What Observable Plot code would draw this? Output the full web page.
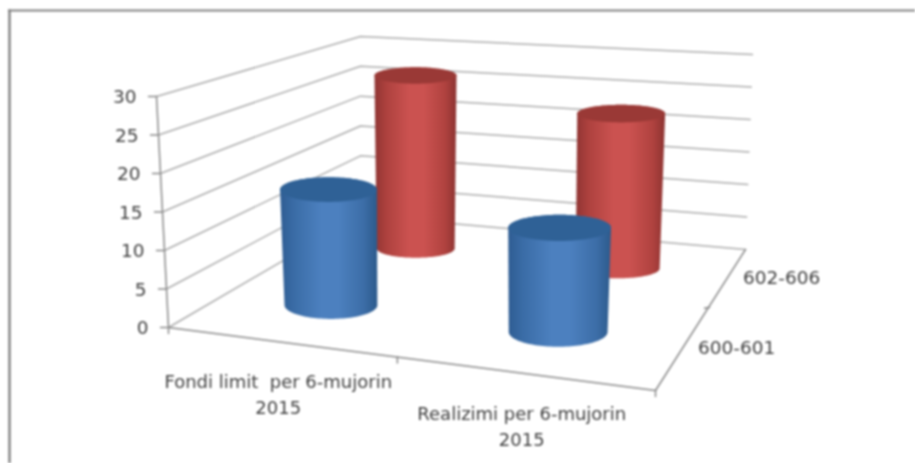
<!DOCTYPE html>
<html><head><meta charset="utf-8">
<script src="https://cdn.jsdelivr.net/npm/d3@7"></script>
<script src="https://cdn.jsdelivr.net/npm/@observablehq/plot@0.6"></script>
<style>html,body{margin:0;padding:0;background:#fff;overflow:hidden}svg{display:block;filter:blur(0.8px)}</style>
</head><body><div id="chart"></div>
<script>
// ---- data ----
const categories = ["Fondi limit  per 6-mujorin\n2015", "Realizimi per 6-mujorin\n2015"];
const series = ["600-601", "602-606"];
const values600 = [15.7, 13.4];
const values602 = [26.7, 22.8];
const valueTicks = [0, 5, 10, 15, 20, 25, 30];
const zMax = 30;

// ---- oblique projection: (u along categories, v along series, value) -> chart units ----
const corners = {
  front0: [[168, 327], [655, 390]], back0: [[360, 215], [745, 249]],
  front1: [[156, 96], [663, 130]], back1: [[360, 36], [752, 54]]
};
const mix = (a, b, t) => [a[0] + (b[0] - a[0]) * t, a[1] + (b[1] - a[1]) * t];
function proj(u, v, val) {
  const t = val / zMax;
  const f = mix(mix(corners.front0[0], corners.front0[1], u), mix(corners.front1[0], corners.front1[1], u), t);
  const b = mix(mix(corners.back0[0], corners.back0[1], u), mix(corners.back1[0], corners.back1[1], u), t);
  return mix(f, b, v);
}
const uPos = [[0.226, 0.235], [0.725, 0.732]], vPos = [0.31, 0.79];

// ---- walls, floor ----
const gridLines = valueTicks.flatMap(t => [[0, 0], [0, 1], [1, 1]].map(([u, v]) => {
  const [x, y] = proj(u, v, t); return {t, x, y};
}));
const seg = (id, a, b) => [{id, x: a[0], y: a[1]}, {id, x: b[0], y: b[1]}];
const axisLines = [
  ...seg("val", proj(0, 0, 0), proj(0, 0, zMax)),
  ...seg("front", proj(0, 0, 0), proj(1, 0, 0)),
  ...seg("side", proj(1, 0, 0), proj(1, 1, 0)),
  ...valueTicks.flatMap(t => { const p = proj(0, 0, t); return seg("vt" + t, [p[0] - 8, p[1]], p); }),
  ...[0, 0.47, 1].flatMap(u => { const p = proj(u, 0, 0); return seg("ct" + u, p, [p[0], p[1] + 6]); }),
  ...[0.59].flatMap(v => { const p = proj(1, v, 0); return seg("st" + v, [p[0] - 4, p[1] + 1], [p[0] + 1, p[1]]); })
];
const valueLabels = valueTicks.map(t => { const p = proj(0, 0, t); return {t, x: p[0] - 20, y: p[1]}; });
const catLabels = categories.map((c, i) => { const p = proj(0.25 + i * 0.5, 0, 0); return {c, x: p[0], y: p[1]}; });
const serLabels = series.map((s, i) => { const p = proj(1, 0.25 + i * 0.5, 0); return {s, x: p[0], y: p[1]}; });

// ---- cylinders ----
const rx = (u, v, isTop) => 49.9 + 6 * u - 15.6 * v + (isTop ? 2 : 0);
const ry = (u, v, isTop) => rx(u, v, isTop) * ((isTop ? 0.255 : 0.3) - (isTop ? 0.115 : 0.13) * (v - 0.31));
function cylinder(ci, si, val) {
  const u = uPos[ci][si], v = vPos[si];
  const [bx, by] = proj(u, v, 0), [tx, ty] = proj(u, v, val);
  const brx = rx(u, v, false), bry = ry(u, v, false), trx = rx(u, v, true), trY = ry(u, v, true);
  const body = [], cap = [];
  const N = 60;
  for (let i = 0; i <= N; i++) { const a = Math.PI - Math.PI * i / N; body.push({x: bx + brx * Math.cos(a), y: by + bry * Math.sin(a)}); }
  for (let i = 0; i <= N; i++) { const a = Math.PI * i / N; body.push({x: tx + trx * Math.cos(a), y: ty - trY * Math.sin(a)}); }
  for (let i = 0; i <= 2 * N; i++) { const a = Math.PI * i / N; cap.push({x: tx + trx * Math.cos(a), y: ty + trY * Math.sin(a)}); }
  return {body, cap};
}
const pal = {
  blue: {stops: [[0, "#2e5c92"], [0.14, "#3a6ca6"], [0.42, "#4c80bf"], [0.6, "#4c80bf"], [0.86, "#3c6da7"], [1, "#2c5a8c"]], cap: "#2f6196"},
  red: {stops: [[0, "#8f3533"], [0.14, "#ad413e"], [0.42, "#cb5250"], [0.6, "#cb5250"], [0.86, "#b0423f"], [1, "#8c3331"]], cap: "#9a3936"}
};
const defs = () => {
  const d = d3.create("svg:defs");
  for (const k of Object.keys(pal)) {
    const g = d.append("linearGradient").attr("id", "g-" + k).attr("x1", 0).attr("x2", 1).attr("y1", 0).attr("y2", 0);
    for (const [o, c] of pal[k].stops) g.append("stop").attr("offset", o).attr("stop-color", c);
  }
  return d.node();
};
const cylMarks = (c, k) => [
  Plot.line(c.body, {x: "x", y: "y", fill: `url(#g-${k})`, stroke: "none"}),
  Plot.line(c.cap, {x: "x", y: "y", fill: pal[k].cap, stroke: "none"})
];

const font = "DejaVu Sans";
const chart = Plot.plot({
  width: 915, height: 463, margin: 0,
  style: {background: "#fff"},
  x: {type: "linear", domain: [0, 915], range: [0, 915], axis: null},
  y: {type: "linear", domain: [0, 463], range: [0, 463], axis: null},
  marks: [
    defs,
    Plot.ruleX([9], {y1: 9.5, y2: 463, stroke: "#808080", strokeWidth: 2.4}),
    Plot.ruleY([10], {x1: 8, x2: 915, stroke: "#808080", strokeWidth: 2}),
    Plot.line(gridLines, {x: "x", y: "y", z: "t", stroke: "#adadad", strokeWidth: 1.5}),
    Plot.line(axisLines, {x: "x", y: "y", z: "id", stroke: "#8a8a8a", strokeWidth: 1.5}),
    ...cylMarks(cylinder(0, 1, values602[0]), "red"),
    ...cylMarks(cylinder(1, 1, values602[1]), "red"),
    ...cylMarks(cylinder(0, 0, values600[0]), "blue"),
    ...cylMarks(cylinder(1, 0, values600[1]), "blue"),
    Plot.text(valueLabels, {x: "x", y: "y", text: d => String(d.t), dy: 1, textAnchor: "end", fontFamily: font, fontSize: 18.5, fill: "#404040"}),
    Plot.text(catLabels, {x: "x", y: "y", text: "c", dx: -12, dy: 49.5, lineAnchor: "middle", lineHeight: 1.44, fontFamily: font, fontSize: 18, fill: "#404040"}),
    Plot.text(serLabels, {x: "x", y: "y", text: "s", dx: 20, dy: -7, textAnchor: "start", fontFamily: font, fontSize: 18.5, fill: "#404040"})
  ]
});
document.getElementById("chart").append(chart);
</script></body></html>
